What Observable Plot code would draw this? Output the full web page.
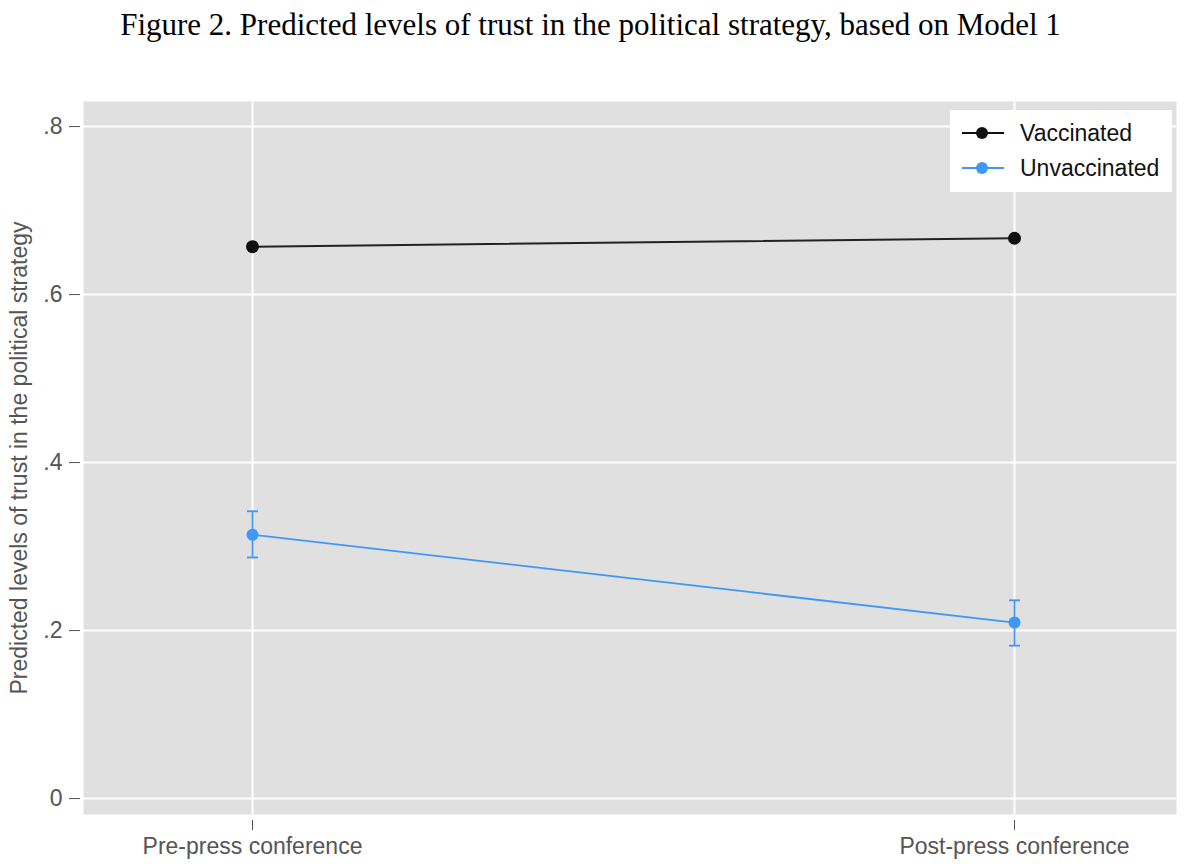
<!DOCTYPE html>
<html><head><meta charset="utf-8">
<script src="https://cdn.jsdelivr.net/npm/d3@7"></script>
<script src="https://cdn.jsdelivr.net/npm/@observablehq/plot@0.6"></script>
<style>
body{margin:0;background:#fff;}
#wrap{position:relative;width:1200px;height:866px;overflow:hidden;}
#title{position:absolute;left:0;top:7px;width:1181px;text-align:center;font-family:"Liberation Serif","Times New Roman",serif;font-size:31px;color:#000;}
#chart{position:absolute;left:0;top:60px;}
#legend{position:absolute;left:950px;top:110px;width:222px;height:82px;background:#fff;font-family:"Liberation Sans",Arial,sans-serif;font-size:23px;color:#111;}
.item{position:absolute;left:12px;height:30px;display:flex;align-items:center;}
.item svg{margin-right:16px;}
</style>
</head><body>
<div id="wrap">
  <div id="title">Figure 2. Predicted levels of trust in the political strategy, based on Model 1</div>
  <div id="chart"></div>
  <div id="legend"></div>
</div>
<script>
const periods = ["Pre-press conference", "Post-press conference"];
const groups = ["Vaccinated", "Unvaccinated"];
const groupColors = ["#111111", "#3f97f6"];
const vaccinated = [0.657, 0.667];
const unvaccinated = [0.314, 0.2095];
const unvaccinatedLow = [0.287, 0.182];
const unvaccinatedHigh = [0.342, 0.236];
const yTicks = [0, 0.2, 0.4, 0.6, 0.8];
const yLabel = "Predicted levels of trust in the political strategy";

const vacRows = periods.map((p, i) => ({period: p, value: vaccinated[i]}));
const unvRows = periods.map((p, i) => ({period: p, value: unvaccinated[i], lo: unvaccinatedLow[i], hi: unvaccinatedHigh[i]}));

const capSymbol = {
  draw(context, size) {
    const r = Math.sqrt(size / Math.PI);
    context.moveTo(-r, 0);
    context.lineTo(r, 0);
  }
};
const fmt = d => d === 0 ? "0" : d3.format(".1f")(d).replace(/^0/, "");

const chart = Plot.plot({
  width: 1200, height: 806,
  marginTop: 41, marginBottom: 52, marginLeft: 83, marginRight: 24,
  style: {fontFamily: "'Liberation Sans', Arial, sans-serif", fontSize: "23px", color: "#555", background: "transparent"},
  x: {type: "point", domain: periods, padding: 0.2163, align: 0.51},
  y: {domain: [-0.019, 0.8298]},
  marks: [
    Plot.frame({fill: "#e0e0e0", stroke: null}),
    Plot.gridY(yTicks, {stroke: "white", strokeOpacity: 1, strokeWidth: 2}),
    Plot.gridX(periods, {stroke: "white", strokeOpacity: 1, strokeWidth: 2}),
    Plot.axisY(yTicks, {tickFormat: fmt, tickSize: 11, tickPadding: 7, dx: -3, label: yLabel, labelAnchor: "center", labelArrow: "none", labelOffset: 73, fontSize: 23}),
    Plot.axisX(periods, {tickSize: 10, tickPadding: 7, dy: 6, label: null, fontSize: 23}),
    Plot.line(vacRows, {x: "period", y: "value", stroke: "#222", strokeWidth: 2}),
    Plot.dot(vacRows, {x: "period", y: "value", fill: groupColors[0], r: 6.5}),
    Plot.ruleX(unvRows, {x: "period", y1: "lo", y2: "hi", stroke: groupColors[1], strokeWidth: 1.8}),
    Plot.dot(unvRows, {x: "period", y: "lo", symbol: capSymbol, r: 5.5, stroke: groupColors[1], strokeWidth: 1.8, fill: "none"}),
    Plot.dot(unvRows, {x: "period", y: "hi", symbol: capSymbol, r: 5.5, stroke: groupColors[1], strokeWidth: 1.8, fill: "none"}),
    Plot.line(unvRows, {x: "period", y: "value", stroke: groupColors[1], strokeWidth: 1.8}),
    Plot.dot(unvRows, {x: "period", y: "value", fill: groupColors[1], r: 6})
  ]
});
document.getElementById("chart").appendChild(chart);

const legend = document.getElementById("legend");
groups.forEach((g, i) => {
  const item = document.createElement("div");
  item.className = "item";
  item.style.top = (8 + i * 35) + "px";
  item.innerHTML = `<svg width="42" height="14"><line x1="0" x2="42" y1="7" y2="7" stroke="${groupColors[i]}" stroke-width="1.8"/><circle cx="20" cy="7" r="6" fill="${groupColors[i]}"/></svg><span>${g}</span>`;
  legend.appendChild(item);
});
</script>
</body></html>
